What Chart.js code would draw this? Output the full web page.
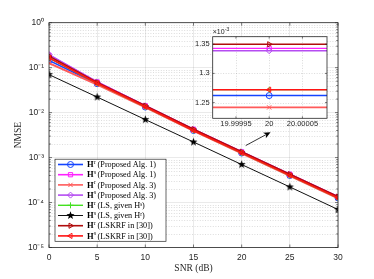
<!DOCTYPE html>
<html><head><meta charset="utf-8">
<script src="https://cdn.jsdelivr.net/npm/chart.js@4/dist/chart.umd.min.js"></script>
<style>
html,body{margin:0;padding:0;background:#fff;}
#wrap{position:relative;width:374px;height:279px;overflow:hidden;}
#main{position:absolute;left:0;top:0;}
#inset{position:absolute;left:180px;top:20px;}
</style></head><body>
<div id="wrap"><canvas id="main" width="374" height="279"></canvas><canvas id="inset" width="155" height="115"></canvas></div>
<script>
// ---------- data ----------
const snr = [0, 5, 10, 15, 20, 25, 30];
const hrAlg1   = [0.145, 0.044, 0.0133, 0.00400, 0.001262, 0.000400, 0.0001265];
const hsAlg1   = [0.19,  0.048, 0.0142, 0.00425, 0.001343, 0.000425, 0.0001345];
const hrAlg3   = [0.126, 0.042, 0.0131, 0.00393, 0.0012417, 0.000393, 0.0001243];
const hsAlg3   = [0.195, 0.048, 0.0142, 0.00424, 0.001339, 0.000424, 0.0001340];
const hrLS     = [0.165, 0.045, 0.0135, 0.00402, 0.001272, 0.000402, 0.0001272];
const hsLS     = [0.070, 0.0222, 0.0070, 0.00222, 0.00070, 0.000222, 0.000070];
const hrLSKRF  = [0.180, 0.047, 0.0143, 0.00427, 0.00135, 0.000427, 0.000135];
const hsLSKRF  = [0.165, 0.045, 0.0135, 0.00402, 0.001272, 0.000402, 0.0001272];

const seriesNames = ['(Proposed Alg. 1)', '(Proposed Alg. 1)', '(Proposed Alg. 3)', '(Proposed Alg. 3)',
                     '(LS, given H\u02E2)', '(LS, given H\u02B3)', '(LSKRF in [30])', '(LSKRF in [30])'];
const seriesSup = ['r', 's', 'r', 's', 'r', 's', 'r', 's'];
const xTicks = [0, 5, 10, 15, 20, 25, 30];
const yDecades = [-5, -4, -3, -2, -1, 0];
const insetXTicks = [19.99995, 20, 20.00005];
const insetYTicks = [0.00125, 0.0013, 0.00135];
const insetXRange = [19.999915, 20.000087];
const insetYRange = [0.001223, 0.001363];
const insetAt = 20;
const arrowFrom = [20.42, 1.85e-3];
const arrowTo = [23.0, 3.67e-3];

// ---------- styles ----------
function makeStar(r, color) {
  const c = document.createElement('canvas');
  const s = Math.ceil(2 * r + 2);
  c.width = c.height = s;
  const g = c.getContext('2d');
  g.fillStyle = color;
  g.beginPath();
  for (let k = 0; k < 10; k++) {
    const rad = k % 2 ? r * 0.42 : r;
    const a = -Math.PI / 2 + k * Math.PI / 5;
    g.lineTo(s / 2 + rad * Math.cos(a), s / 2 + rad * Math.sin(a));
  }
  g.closePath(); g.fill();
  return c;
}
const star = makeStar(4.2, '#000');
const styles = [
  {c: '#1444ff', ps: 'circle', rot: 0, w: 1.6},
  {c: '#ff22ff', ps: 'rect', rot: 0, w: 1.6},
  {c: '#ff5a5a', ps: 'crossRot', rot: 0, w: 2},
  {c: '#b54cf2', ps: 'rectRot', rot: 0, w: 1.6},
  {c: '#44e020', ps: 'cross', rot: 0, w: 1.4},
  {c: '#111111', ps: star, rot: 0, w: 1},
  {c: '#b00c0c', ps: 'triangle', rot: 90, w: 1.6},
  {c: '#ff1414', ps: 'triangle', rot: -90, w: 1.6},
];
const allSeries = [hrAlg1, hsAlg1, hrAlg3, hsAlg3, hrLS, hsLS, hrLSKRF, hsLSKRF];
const axisCol = '#262626';
const sup = s => s.split('').map(ch => ({'-': '\u207B', '0': '\u2070', '1': '\u00B9', '2': '\u00B2', '3': '\u00B3', '4': '\u2074', '5': '\u2075', '6': '\u2076', '7': '\u2077', '8': '\u2078', '9': '\u2079'}[ch] || ch)).join('');
const isDecade = v => Math.abs(Math.log10(v) - Math.round(Math.log10(v))) < 1e-6;

const drawPt = (Chart.helpers && Chart.helpers.drawPoint) ? Chart.helpers.drawPoint : null;

// ---------- main chart ----------
const mainPlugin = {
  id: 'mainDeco',
  beforeDatasetsDraw(chart) {
    const {ctx, chartArea: ca, scales: {y}} = chart;
    ctx.save();
    ctx.strokeStyle = 'rgba(150,150,150,0.55)';
    ctx.lineWidth = 0.6;
    ctx.setLineDash([1, 1.6]);
    y.ticks.forEach(t => {
      if (isDecade(t.value)) return;
      const py = Math.round(y.getPixelForValue(t.value)) + 0.5;
      ctx.beginPath(); ctx.moveTo(ca.left, py); ctx.lineTo(ca.right, py); ctx.stroke();
    });
    ctx.restore();
  },
  afterDatasetsDraw(chart) {
    const {ctx, chartArea: ca, scales: {x, y}} = chart;
    ctx.save();
    // arrow
    const x0 = x.getPixelForValue(arrowFrom[0]), y0 = y.getPixelForValue(arrowFrom[1]);
    const x1 = x.getPixelForValue(arrowTo[0]), y1 = y.getPixelForValue(arrowTo[1]);
    const ang = Math.atan2(y1 - y0, x1 - x0);
    ctx.strokeStyle = '#000'; ctx.fillStyle = '#000'; ctx.lineWidth = 0.8;
    ctx.beginPath(); ctx.moveTo(x0, y0); ctx.lineTo(x1 - 5 * Math.cos(ang), y1 - 5 * Math.sin(ang)); ctx.stroke();
    ctx.beginPath();
    ctx.moveTo(x1, y1);
    ctx.lineTo(x1 - 7 * Math.cos(ang) + 3 * Math.sin(ang), y1 - 7 * Math.sin(ang) - 3 * Math.cos(ang));
    ctx.lineTo(x1 - 5 * Math.cos(ang), y1 - 5 * Math.sin(ang));
    ctx.lineTo(x1 - 7 * Math.cos(ang) - 3 * Math.sin(ang), y1 - 7 * Math.sin(ang) + 3 * Math.cos(ang));
    ctx.closePath(); ctx.fill();
    // box + ticks
    ctx.strokeStyle = axisCol; ctx.lineWidth = 0.8;
    ctx.strokeRect(ca.left, ca.top, ca.right - ca.left, ca.bottom - ca.top);
    ctx.lineWidth = 0.6;
    y.ticks.forEach(t => {
      const py = y.getPixelForValue(t.value);
      const L = isDecade(t.value) ? 3 : 1.8;
      ctx.beginPath(); ctx.moveTo(ca.left, py); ctx.lineTo(ca.left + L, py);
      ctx.moveTo(ca.right, py); ctx.lineTo(ca.right - L, py); ctx.stroke();
    });
    x.ticks.forEach(t => {
      const px = x.getPixelForValue(t.value);
      ctx.beginPath(); ctx.moveTo(px, ca.bottom); ctx.lineTo(px, ca.bottom - 3);
      ctx.moveTo(px, ca.top); ctx.lineTo(px, ca.top + 3); ctx.stroke();
    });
    // legend
    const lx = ca.left + 6, ly = ca.top + 136.5, lw = 111, rowH = 10.2;
    const lh = rowH * chart.data.datasets.length + 0.5;
    ctx.fillStyle = '#fff';
    ctx.fillRect(lx, ly, lw, lh);
    ctx.strokeStyle = axisCol; ctx.lineWidth = 0.7;
    ctx.strokeRect(lx, ly, lw, lh);
    chart.data.datasets.forEach((ds, i) => {
      const cy = ly + 5.3 + i * rowH;
      ctx.strokeStyle = ds.borderColor; ctx.lineWidth = Math.min(ds.borderWidth, 1.6);
      ctx.beginPath(); ctx.moveTo(lx + 3, cy); ctx.lineTo(lx + 28, cy); ctx.stroke();
      if (drawPt) {
        ctx.strokeStyle = ds.pointBorderColor; ctx.fillStyle = 'rgba(0,0,0,0)'; ctx.lineWidth = 1;
        drawPt(ctx, {pointStyle: ds.pointStyle, rotation: ds.pointRotation, radius: 3, borderWidth: 1}, lx + 15.5, cy);
      }
      ctx.fillStyle = '#000'; ctx.textBaseline = 'middle'; ctx.textAlign = 'left';
      ctx.font = 'bold 8.5px "Liberation Serif"';
      ctx.fillText('H', lx + 32, cy + 0.5);
      const hw = ctx.measureText('H').width;
      ctx.font = '5.5px "Liberation Serif"';
      ctx.fillText(seriesSup[i], lx + 32 + hw + 0.3, cy - 2.2);
      ctx.font = '8.2px "Liberation Serif"';
      ctx.fillText(seriesNames[i], lx + 32 + hw + 4, cy + 0.5);
    });
    ctx.restore();
  }
};

const mainDatasets = allSeries.map((arr, i) => ({
  label: 'H' + seriesSup[i] + ' ' + seriesNames[i],
  data: snr.map((v, k) => ({x: v, y: arr[k]})),
  borderColor: styles[i].c,
  borderWidth: styles[i].w,
  pointStyle: styles[i].ps,
  pointRotation: styles[i].rot,
  pointRadius: 3,
  pointBorderWidth: 1,
  pointBorderColor: styles[i].c,
  pointBackgroundColor: 'rgba(0,0,0,0)',
  order: allSeries.length - i,
  tension: 0,
}));

new Chart(document.getElementById('main'), {
  type: 'line',
  data: {datasets: mainDatasets},
  options: {
    responsive: false, animation: false, devicePixelRatio: 1,
    layout: {padding: {top: 22.7, right: 36, left: 0, bottom: 0}},
    plugins: {legend: {display: false}, tooltip: {enabled: false}},
    scales: {
      x: {
        type: 'linear', min: 0, max: 30,
        afterBuildTicks: s => { s.ticks = xTicks.map(v => ({value: v})); },
        ticks: {font: {family: 'Liberation Sans', size: 8.5}, color: axisCol, padding: 5, maxRotation: 0, autoSkip: false},
        grid: {color: 'rgba(0,0,0,0.12)', lineWidth: 0.7, drawTicks: false},
        border: {display: false},
        title: {display: true, text: 'SNR (dB)', font: {family: 'Liberation Serif', size: 9.5}, color: axisCol, padding: {top: 0, bottom: 5}},
        afterFit: s => { s.height = 31.5; }
      },
      y: {
        type: 'logarithmic', min: 1e-5, max: 1,
        afterBuildTicks: s => {
          const t = [];
          yDecades.forEach(e => {
            for (let m = 1; m <= 9; m++) {
              const v = m * Math.pow(10, e);
              if (v <= 1.0000001) t.push({value: m === 1 ? Math.pow(10, e) : v});
            }
          });
          s.ticks = t;
        },
        ticks: {
          autoSkip: false, font: {family: 'Liberation Sans', size: 8.5}, color: axisCol, padding: 5,
          callback: v => isDecade(v) ? '10' + sup(String(Math.round(Math.log10(v)))) : ''
        },
        grid: {color: c => (c.tick && isDecade(c.tick.value)) ? 'rgba(0,0,0,0.12)' : 'rgba(0,0,0,0)', lineWidth: 0.7, drawTicks: false},
        border: {display: false},
        title: {display: true, text: 'NMSE', font: {family: 'Liberation Serif', size: 9.5}, color: axisCol, padding: {top: 12.3, bottom: 0}},
        afterFit: s => { s.width = 49; }
      }
    }
  },
  plugins: [mainPlugin]
});

// ---------- inset ----------
const iAt = snr.indexOf(insetAt);
const insetPlugin = {
  id: 'insetDeco',
  beforeDatasetsDraw(chart) {
    const {ctx, chartArea: ca, scales: {x, y}} = chart;
    ctx.save();
    ctx.fillStyle = '#fff';
    ctx.fillRect(ca.left, ca.top, ca.right - ca.left, ca.bottom - ca.top);
    ctx.strokeStyle = 'rgba(150,150,150,0.6)'; ctx.lineWidth = 0.6; ctx.setLineDash([1, 1.6]);
    x.ticks.forEach(t => { const px = Math.round(x.getPixelForValue(t.value)) + 0.5; ctx.beginPath(); ctx.moveTo(px, ca.top); ctx.lineTo(px, ca.bottom); ctx.stroke(); });
    y.ticks.forEach(t => { const py = Math.round(y.getPixelForValue(t.value)) + 0.5; ctx.beginPath(); ctx.moveTo(ca.left, py); ctx.lineTo(ca.right, py); ctx.stroke(); });
    ctx.restore();
  },
  afterDatasetsDraw(chart) {
    const {ctx, chartArea: ca, scales: {x, y}} = chart;
    ctx.save();
    ctx.strokeStyle = axisCol; ctx.lineWidth = 0.8;
    ctx.strokeRect(ca.left, ca.top, ca.right - ca.left, ca.bottom - ca.top);
    ctx.lineWidth = 0.6;
    x.ticks.forEach(t => { const px = x.getPixelForValue(t.value); ctx.beginPath(); ctx.moveTo(px, ca.bottom); ctx.lineTo(px, ca.bottom - 2); ctx.moveTo(px, ca.top); ctx.lineTo(px, ca.top + 2); ctx.stroke(); });
    y.ticks.forEach(t => { const py = y.getPixelForValue(t.value); ctx.beginPath(); ctx.moveTo(ca.left, py); ctx.lineTo(ca.left + 2, py); ctx.moveTo(ca.right, py); ctx.lineTo(ca.right - 2, py); ctx.stroke(); });
    ctx.fillStyle = axisCol; ctx.textAlign = 'left'; ctx.textBaseline = 'alphabetic';
    ctx.font = '7px "Liberation Sans"';
    ctx.fillText('\u00D710', ca.left, ca.top - 2.5);
    const w = ctx.measureText('\u00D710').width;
    ctx.font = '5px "Liberation Sans"';
    ctx.fillText('-3', ca.left + w + 0.3, ca.top - 5.5);
    ctx.restore();
  }
};

const insetDatasets = allSeries.map((arr, i) => ({
  data: [{x: insetXRange[0], y: arr[iAt]}, {x: insetAt, y: arr[iAt]}, {x: insetXRange[1], y: arr[iAt]}],
  borderColor: styles[i].c,
  borderWidth: Math.max(1.2, styles[i].w - 0.2),
  pointStyle: styles[i].ps,
  pointRotation: styles[i].rot,
  pointRadius: [0, 3, 0],
  pointBorderWidth: 1,
  pointBorderColor: styles[i].c,
  pointBackgroundColor: 'rgba(0,0,0,0)',
  order: allSeries.length - i,
}));

new Chart(document.getElementById('inset'), {
  type: 'line',
  data: {datasets: insetDatasets},
  options: {
    responsive: false, animation: false, devicePixelRatio: 1,
    layout: {padding: {top: 16.7, right: 8, left: 0, bottom: 0}},
    plugins: {legend: {display: false}, tooltip: {enabled: false}},
    scales: {
      x: {
        type: 'linear', min: insetXRange[0], max: insetXRange[1],
        afterBuildTicks: s => { s.ticks = insetXTicks.map(v => ({value: v})); },
        ticks: {font: {family: 'Liberation Sans', size: 7.5}, color: axisCol, padding: 1, maxRotation: 0, autoSkip: false,
                callback: v => String(parseFloat(v.toFixed(5)))},
        grid: {display: false, drawTicks: false}, border: {display: false},
        afterFit: s => { s.height = 16.7; }
      },
      y: {
        type: 'linear', min: insetYRange[0], max: insetYRange[1],
        afterBuildTicks: s => { s.ticks = insetYTicks.map(v => ({value: v})); },
        ticks: {font: {family: 'Liberation Sans', size: 7.5}, color: axisCol, padding: 3, autoSkip: false,
                callback: v => String(parseFloat((v * 1000).toFixed(2)))},
        grid: {display: false, drawTicks: false}, border: {display: false},
        afterFit: s => { s.width = 32.7; }
      }
    }
  },
  plugins: [insetPlugin]
});
</script>
</body></html>
